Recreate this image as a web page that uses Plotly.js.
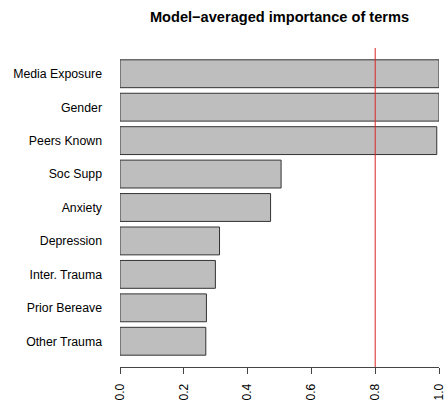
<!DOCTYPE html>
<html>
<head>
<meta charset="utf-8">
<script src="https://cdn.plot.ly/plotly-3.0.1.min.js"></script>
<style>html,body{margin:0;padding:0;background:#fff;}#chart{width:446px;height:403px;}</style>
</head>
<body>
<div id="chart"></div>
<script>
// Terms listed bottom to top
const terms = ["Other Trauma", "Prior Bereave", "Inter. Trauma", "Depression", "Anxiety", "Soc Supp", "Peers Known", "Gender", "Media Exposure"];
const importance = [0.269, 0.271, 0.299, 0.312, 0.472, 0.505, 0.993, 1.0, 1.0];
const threshold = 0.8;
const xTicks = [0, 0.2, 0.4, 0.6, 0.8, 1.0];
const xTickLabels = ["0.0", "0.2", "0.4", "0.6", "0.8", "1.0"];

const font = "Liberation Sans, Arial, Helvetica, sans-serif";

const trace = {
  type: "bar",
  orientation: "h",
  x: importance,
  y: terms,
  marker: {color: "#bebebe", line: {color: "#333333", width: 1}},
  hoverinfo: "x+y"
};

const layout = {
  width: 446, height: 403,
  margin: {l: 120, r: 7, t: 48, b: 36, pad: 0},
  paper_bgcolor: "#fff", plot_bgcolor: "#fff",
  showlegend: false,
  bargap: 1 - 1/1.2,
  title: {
    text: "<b>Model\u2212averaged importance of terms</b>",
    font: {family: font, size: 14.6, color: "#000"},
    x: 0.5 * (120 + 439) / 446, xanchor: "center",
    y: 1 - 17/403, yanchor: "middle", yref: "container"
  },
  xaxis: {
    range: [0, 1], fixedrange: true,
    tickvals: xTicks, ticktext: xTickLabels,
    tickangle: -90,
    ticks: "outside", ticklen: 6, tickcolor: "#444", tickwidth: 1,
    ticklabelstandoff: 5,
    showline: true, linecolor: "#444", linewidth: 1,
    showgrid: false, zeroline: false,
    tickfont: {family: font, size: 12, color: "#000"}
  },
  yaxis: {
    type: "category",
    categoryorder: "array", categoryarray: terms,
    range: [-0.77, 8.77], fixedrange: true,
    showline: false, showgrid: false, zeroline: false,
    ticks: "", ticklabelstandoff: 17,
    tickfont: {family: font, size: 12.3, color: "#000"}
  },
  shapes: [{
    type: "line", xref: "x", yref: "paper",
    x0: threshold, x1: threshold, y0: 0, y1: 1,
    line: {color: "#dd2222", width: 1}
  }]
};

Plotly.newPlot("chart", [trace], layout, {displayModeBar: false, staticPlot: true});
</script>
</body>
</html>
